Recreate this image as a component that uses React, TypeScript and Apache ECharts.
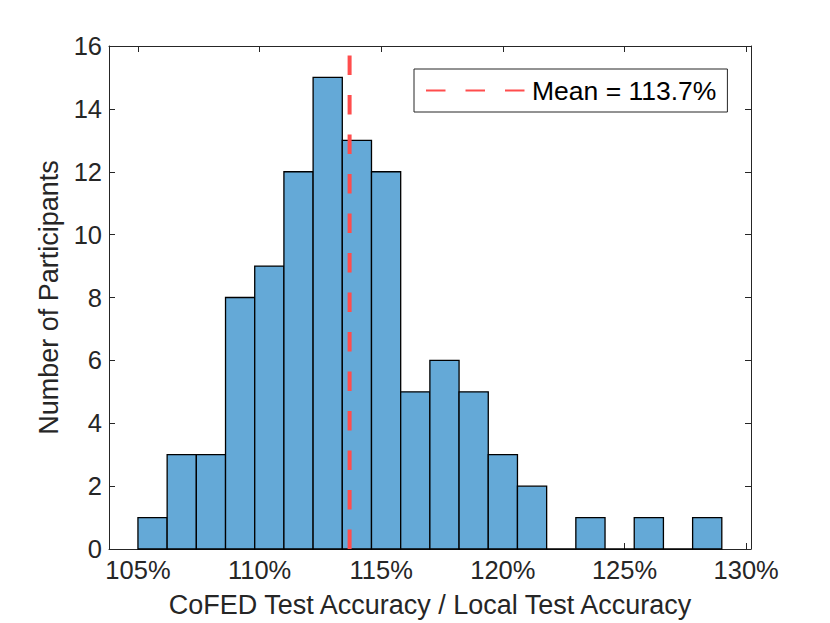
import React, { useEffect, useRef } from "react";
import * as echarts from "echarts";

// Histogram bin edges (percent) and counts per bin
const binStarts = [105, 106.2, 107.4, 108.6, 109.8, 111, 112.2, 113.4, 114.6, 115.8, 117, 118.2, 119.4, 120.6, 121.8, 123, 124.2, 125.4, 126.6, 127.8];
const binEnds = [106.2, 107.4, 108.6, 109.8, 111, 112.2, 113.4, 114.6, 115.8, 117, 118.2, 119.4, 120.6, 121.8, 123, 124.2, 125.4, 126.6, 127.8, 129];
const counts = [1, 3, 3, 8, 9, 12, 15, 13, 12, 5, 6, 5, 3, 2, 0, 1, 0, 1, 0, 1];
const meanValue = 113.7;
const meanLabel = "Mean = 113.7%";
const xTicks = [105, 110, 115, 120, 125, 130];
const xMin = 103.81;
const xMax = 130.2;
const yMin = 0;
const yMax = 16;
const yInterval = 2;
const xTitle = "CoFED Test Accuracy / Local Test Accuracy";
const yTitle = "Number of Participants";

const FONT = "'Liberation Sans', Arial, Helvetica, sans-serif";
const AX = "#262626";

export default function App() {
  const ref = useRef<HTMLDivElement>(null);
  useEffect(() => {
    if (!ref.current) return;
    const chart = echarts.init(ref.current, undefined, { renderer: "svg" });
    const histData = counts.map((c, i) => [binStarts[i], binEnds[i], c]);
    const tickCommon = { show: true, inside: true, length: 6, lineStyle: { color: AX, width: 1 } };
    chart.setOption({
      animation: false,
      backgroundColor: "#ffffff",
      grid: { left: 109, top: 46, right: 79, bottom: 74, containLabel: false },
      legend: {
        data: [meanLabel],
        left: 414,
        top: 69,
        padding: [8, 11, 8, 11],
        itemWidth: 99,
        itemHeight: 4,
        borderColor: AX,
        borderWidth: 1,
        backgroundColor: "#ffffff",
        itemStyle: { opacity: 0 },
        textStyle: { fontFamily: FONT, fontSize: 26.5, color: "#000", padding: [0, 0, 0, 2] },
      },
      xAxis: [
        {
          type: "value",
          min: xMin,
          max: xMax,
          position: "bottom",
          axisLine: { show: true, onZero: false, lineStyle: { color: AX, width: 1 } },
          axisTick: { ...tickCommon, customValues: xTicks },
          axisLabel: {
            customValues: xTicks,
            formatter: (v: number) => `${v}%`,
            fontFamily: FONT,
            fontSize: 25.5,
            color: AX,
            margin: 8,
          },
          splitLine: { show: false },
          name: xTitle,
          nameLocation: "middle",
          nameGap: 42,
          nameTextStyle: { fontFamily: FONT, fontSize: 27, color: AX },
        },
        {
          type: "value",
          min: xMin,
          max: xMax,
          position: "top",
          axisLine: { show: true, onZero: false, lineStyle: { color: AX, width: 1 } },
          axisTick: { ...tickCommon, customValues: xTicks },
          axisLabel: { show: false },
          splitLine: { show: false },
        },
      ],
      yAxis: [
        {
          type: "value",
          min: yMin,
          max: yMax,
          interval: yInterval,
          position: "left",
          axisLine: { show: true, onZero: false, lineStyle: { color: AX, width: 1 } },
          axisTick: tickCommon,
          axisLabel: { fontFamily: FONT, fontSize: 25.5, color: AX, margin: 7 },
          splitLine: { show: false },
          name: yTitle,
          nameLocation: "middle",
          nameGap: 41,
          nameTextStyle: { fontFamily: FONT, fontSize: 27, color: AX },
        },
        {
          type: "value",
          min: yMin,
          max: yMax,
          interval: yInterval,
          position: "right",
          axisLine: { show: true, onZero: false, lineStyle: { color: AX, width: 1 } },
          axisTick: tickCommon,
          axisLabel: { show: false },
          splitLine: { show: false },
        },
      ],
      series: [
        {
          type: "custom",
          name: "hist",
          xAxisIndex: 0,
          yAxisIndex: 0,
          encode: { x: [0, 1], y: 2 },
          data: histData,
          z: 2,
          renderItem: (params: any, api: any) => {
            const p0 = api.coord([api.value(0), api.value(2)]);
            const p1 = api.coord([api.value(1), 0]);
            return {
              type: "rect",
              shape: { x: p0[0], y: p0[1], width: p1[0] - p0[0], height: p1[1] - p0[1] },
              style: { fill: "#64a9d7", stroke: "#000000", lineWidth: 1.3 },
            };
          },
        },
        {
          type: "line",
          name: meanLabel,
          xAxisIndex: 0,
          yAxisIndex: 0,
          data: [
            [meanValue, yMin],
            [meanValue, yMax],
          ],
          symbol: "none",
          z: 5,
          lineStyle: { color: "#ff4d4d", width: 4, type: [19.5, 20] },
          itemStyle: { color: "#ff4d4d" },
        },
      ],
    });
    return () => chart.dispose();
  }, []);
  return (
    <div
      ref={ref}
      style={{ position: "absolute", left: 0, top: 0, width: 830, height: 623 }}
    />
  );
}
